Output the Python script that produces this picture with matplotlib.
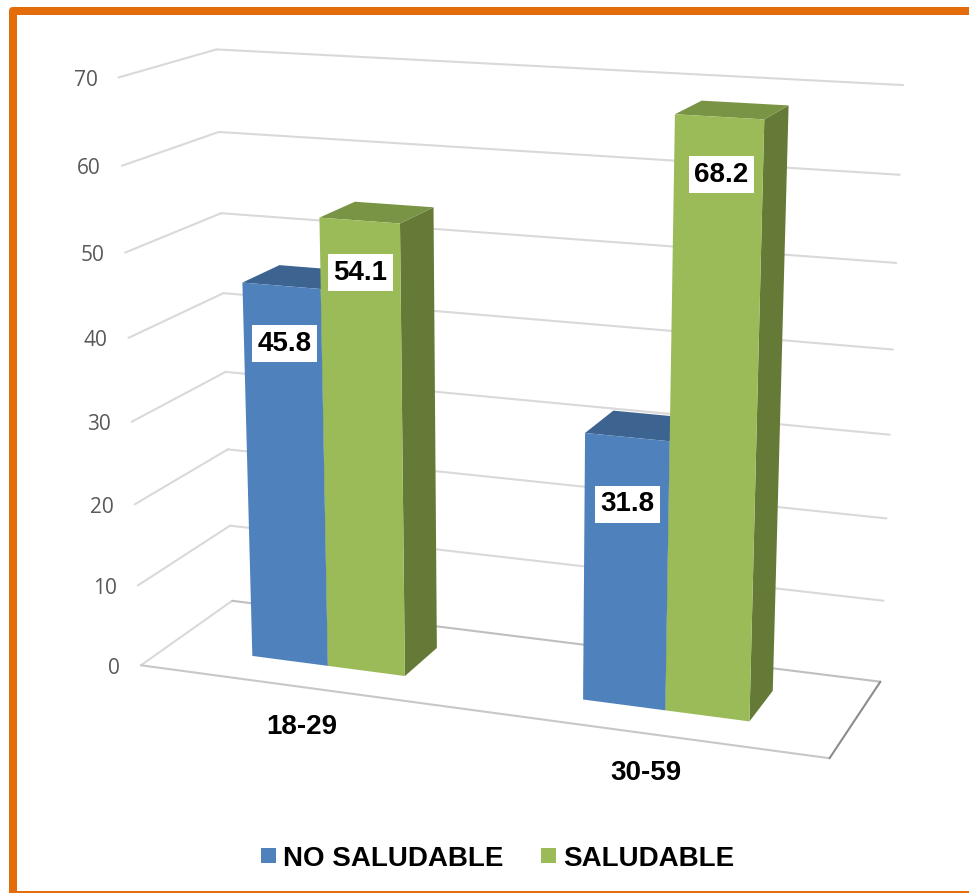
import numpy as np
import matplotlib
matplotlib.use("Agg")
import matplotlib.pyplot as plt
from matplotlib.patches import FancyBboxPatch, Polygon, Rectangle

# data
categories = ["18-29", "30-59"]
no_saludable = [45.8, 31.8]
saludable = [54.1, 68.2]
ticks = [0, 10, 20, 30, 40, 50, 60, 70]
series_names = ["NO SALUDABLE", "SALUDABLE"]

ORANGE = "#E46C0A"
BLUE = ("#4F81BD", "#3D6491", "#38587F")
GREEN = ("#9BBB59", "#7A9445", "#667A38")
GRID = "#D9D9D9"
ARIAL = "Liberation Sans"

# box corners (x, depth, value) -> pixel, used to fit the perspective
world = np.array([
    [0, 0, 0], [1, 0, 0], [1, 1, 0], [0, 1, 0],
    [0, 1, 70], [1, 1, 70], [0, 0, 70],
], dtype=float)
pixels = np.array([
    [141, 665], [830, 758], [880, 682], [232, 601],
    [217, 49], [903, 85], [118, 78],
], dtype=float)

rows = []
for (x, d, v), (u, w) in zip(world, pixels):
    rows.append([x, d, v, 1, 0, 0, 0, 0, -u * x, -u * d, -u * v, -u])
    rows.append([0, 0, 0, 0, x, d, v, 1, -w * x, -w * d, -w * v, -w])
P = np.linalg.svd(np.array(rows))[2][-1].reshape(3, 4)


def project(x, d, v):
    p = P @ np.array([x, d, v, 1.0])
    return p[0] / p[2], p[1] / p[2]


fig = plt.figure(figsize=(9.7, 8.93), dpi=100)
ax = fig.add_axes([0, 0, 1, 1])
ax.set_xlim(0, 970)
ax.set_ylim(893, 0)
ax.axis("off")

# frame
ax.add_patch(FancyBboxPatch((9, 7), 970, 900, boxstyle="round,pad=0,rounding_size=4",
                            fc=ORANGE, ec="none", zorder=0))
ax.add_patch(Rectangle((17, 15), 952, 876, fc="white", ec="none", zorder=0.1))
ax.add_patch(Rectangle((969, 15), 1, 876, fc="#F2C6A2", ec="none", zorder=0.1))


def line3d(a, b, **kw):
    pa, pb = project(*a), project(*b)
    ax.plot([pa[0], pb[0]], [pa[1], pb[1]], solid_capstyle="round", **kw)


# walls and floor
for t in ticks:
    col = GRID if t else "#BFBFBF"
    line3d((0, 0, t), (0, 1, t), color=GRID, lw=1.5, zorder=1)
    line3d((0, 1, t), (1, 1, t), color=col, lw=1.5, zorder=1)
    tx, ty = project(0, 0, t)
    ax.text(tx - 21, ty + 3, str(t), ha="right", va="center", color="#595959",
            fontsize=15, family="Open Sans")
line3d((0, 0, 0), (1, 0, 0), color="#C8C8C8", lw=1.5, zorder=1)
line3d((1, 0, 0), (1, 1, 0), color="#8C8C8C", lw=1.5, zorder=1)

# bars
bar_w = 0.118
d0, d1 = 0.30, 0.71
label_dy = [[58, 52], [67, 58]]
label_dx = [[3, 1], [0, 2]]


def bar(x0, x1, value, cols, zorder):
    face = [project(x0, d0, 0), project(x1, d0, 0), project(x1, d0, value), project(x0, d0, value)]
    top = [project(x0, d0, value), project(x1, d0, value), project(x1, d1, value), project(x0, d1, value)]
    side = [project(x1, d0, 0), project(x1, d1, 0), project(x1, d1, value), project(x1, d0, value)]
    ax.add_patch(Polygon(side, fc=cols[2], ec="none", zorder=zorder))
    ax.add_patch(Polygon(top, fc=cols[1], ec="none", zorder=zorder))
    ax.add_patch(Polygon(face, fc=cols[0], ec="none", zorder=zorder + 0.1))


for i, cat in enumerate(categories):
    c = 0.25 + 0.5 * i
    bar(c - bar_w, c, no_saludable[i], BLUE, 2 + i)
    bar(c, c + bar_w, saludable[i], GREEN, 2.5 + i)
    for j, (val, xm) in enumerate([(no_saludable[i], c - bar_w / 2), (saludable[i], c + bar_w / 2)]):
        lx, ly = project(xm, d0, val)
        ax.text(lx + label_dx[i][j], ly + label_dy[i][j], f"{val:.1f}", ha="center", va="center",
                color="black", fontsize=20, fontweight="bold", family=ARIAL, zorder=6,
                bbox=dict(boxstyle="square,pad=0.2", fc="white", ec="none"))
    tx, ty = project(c, 0, 0)
    ax.text(tx + 0, ty + 40, cat, ha="center", va="center", color="black",
            fontsize=20, fontweight="bold", family=ARIAL)

# legend
for name, col, sx in zip(series_names, [BLUE[0], GREEN[0]], [261, 541]):
    ax.add_patch(Rectangle((sx, 848), 15, 15, fc=col, ec="none"))
    ax.text(sx + 22, 859, name, ha="left", va="center", color="black",
            fontsize=20, fontweight="bold", family=ARIAL)

fig.savefig("out.png", dpi=100)
